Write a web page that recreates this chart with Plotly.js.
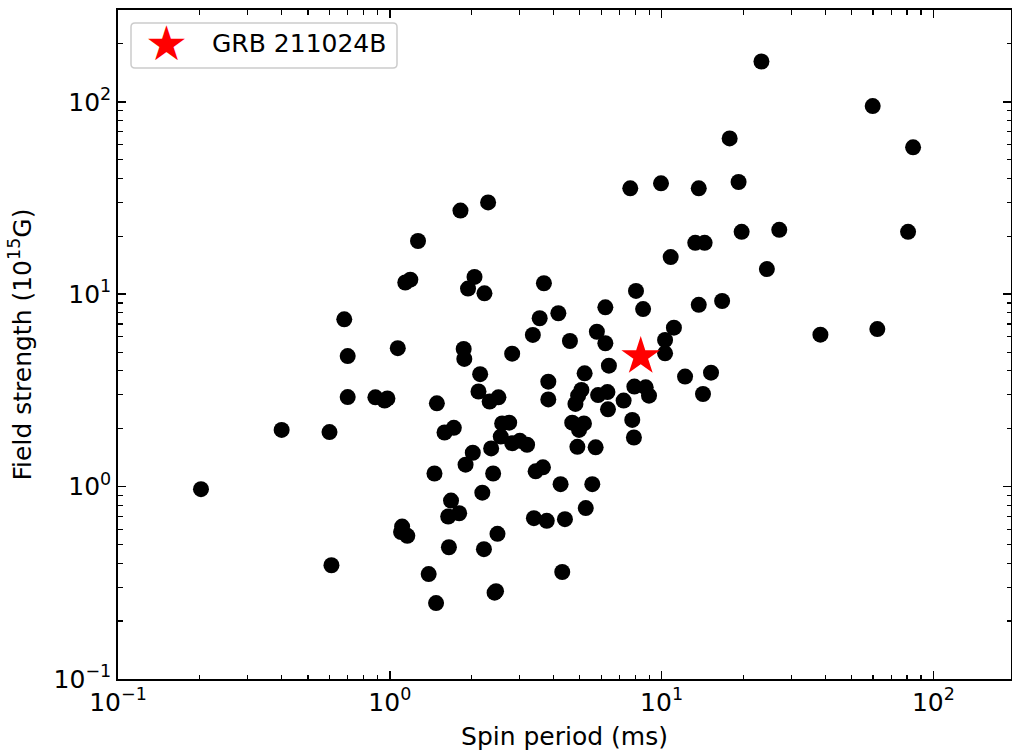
<!DOCTYPE html>
<html>
<head>
<meta charset="utf-8">
<script src="https://cdn.plot.ly/plotly-3.0.1.min.js"></script>
<style>html,body{margin:0;padding:0;background:#fff;}#chart{width:1012px;height:751px;}</style>
</head>
<body>
<div id="chart"></div>
<script>
// Magnetar sample: spin period (ms) and dipole field strength (10^15 G)
const spinPeriod = [
  0.202, 0.40, 0.60, 0.61, 0.68, 0.70, 0.70, 0.885, 0.957, 0.98,
  1.07, 1.14, 1.19, 1.27, 1.11, 1.10, 1.16, 1.82, 2.30, 7.67,
  9.95, 13.7, 13.3, 14.4, 23.3, 59.8, 84.2, 17.8, 19.2, 19.7,
  27.1, 80.7, 24.4, 16.7, 13.7, 38.4, 62.2, 15.2, 14.2, 2.05,
  1.94, 2.23, 3.69, 3.56, 4.17, 3.36, 4.60, 6.21, 5.78, 6.21,
  8.05, 8.55, 1.87, 1.88, 2.82, 2.15, 2.12, 2.33, 2.51, 1.49,
  3.83, 3.83, 5.21, 6.40, 5.07, 4.93, 4.82, 5.84, 6.32, 7.25,
  6.35, 7.94, 8.74, 8.99, 10.3, 10.3, 11.1, 10.8, 12.2, 7.80,
  7.91, 5.18, 4.69, 4.97, 4.90, 5.72, 2.59, 2.75, 2.56, 2.82,
  3.01, 3.20, 1.59, 1.72, 2.36, 2.02, 1.90, 1.46, 2.40, 3.44,
  3.66, 4.25, 5.56, 1.68, 1.64, 1.80, 2.19, 5.26, 3.39, 3.78,
  4.41, 2.49, 1.65, 2.22, 4.31, 1.39, 2.43, 2.46, 1.48
];
const fieldStrength = [
  0.97, 1.97, 1.92, 0.39, 7.4, 4.77, 2.92, 2.91, 2.80, 2.87,
  5.24, 11.5, 11.9, 18.9, 0.62, 0.58, 0.555, 27.2, 30.0, 35.5,
  37.7, 35.5, 18.5, 18.5, 162, 95, 58, 64.5, 38.3, 21.1,
  21.6, 21.1, 13.5, 9.22, 8.81, 6.16, 6.59, 3.91, 3.03, 12.3,
  10.7, 10.1, 11.4, 7.50, 7.96, 6.14, 5.71, 8.55, 6.38, 5.56,
  10.4, 8.37, 5.19, 4.61, 4.91, 3.84, 3.12, 2.77, 2.91, 2.71,
  3.51, 2.84, 3.88, 4.25, 3.18, 2.97, 2.69, 2.99, 3.10, 2.80,
  2.52, 3.31, 3.28, 2.97, 5.78, 4.93, 6.70, 15.6, 3.73, 2.22,
  1.80, 2.13, 2.15, 1.97, 1.61, 1.60, 2.13, 2.15, 1.82, 1.68,
  1.73, 1.65, 1.91, 2.02, 1.58, 1.50, 1.30, 1.17, 1.17, 1.20,
  1.26, 1.03, 1.03, 0.846, 0.699, 0.727, 0.93, 0.773, 0.685, 0.664,
  0.677, 0.568, 0.484, 0.473, 0.360, 0.351, 0.281, 0.286, 0.248
];
const grbName = "GRB 211024B";
const grbPeriod = [8.38];
const grbField = [4.75];

const majorTicks = [0.1, 1, 10, 100];
const majorTickText = ["10<sup>\u22121</sup>", "10<sup>0</sup>", "10<sup>1</sup>", "10<sup>2</sup>"];
const minorTicks = [];
[0.1, 1, 10, 100].forEach(function (d) { for (let k = 2; k <= 9; k++) minorTicks.push(+(d * k).toPrecision(3)); });

const FONT = "DejaVu Sans, Liberation Sans, sans-serif";

const traces = [
  {
    x: spinPeriod, y: fieldStrength, type: "scatter", mode: "markers",
    marker: { color: "black", size: 16, line: { width: 0 } },
    showlegend: false, hoverinfo: "x+y"
  },
  {
    x: grbPeriod, y: grbField, type: "scatter", mode: "markers", name: grbName,
    marker: { color: "#ff0000", symbol: "star", size: 29, line: { width: 0 } },
    showlegend: false
  }
];

function axisBase() {
  return {
    type: "log",
    showgrid: false, zeroline: false,
    showline: true, linecolor: "black", linewidth: 1.8, mirror: "ticks",
    ticks: "inside", ticklen: 8, tickwidth: 1.5, tickcolor: "black",
    tickmode: "array", tickvals: majorTicks, ticktext: majorTickText,
    tickfont: { family: FONT, size: 25, color: "black" },
    minor: { tickmode: "array", tickvals: minorTicks, ticks: "inside", ticklen: 4.5, tickwidth: 1.2, tickcolor: "black", showgrid: false }
  };
}

const xaxis = Object.assign(axisBase(), {
  range: [-1, Math.log10(193)],
  title: { text: "Spin period (ms)", font: { family: FONT, size: 25, color: "black" }, standoff: 13 }
});
const yaxis = Object.assign(axisBase(), {
  range: [-1, Math.log10(300)],
  title: { text: "Field strength (10<sup>15</sup>G)", font: { family: FONT, size: 25, color: "black" }, standoff: 15 }
});

// legend box (rounded) in paper coordinates
const W = 893, H = 669;
const lx0 = 13 / W, lx1 = 279 / W, ly0 = (679 - 68) / H, ly1 = (679 - 23) / H;
const rx = 4 / W, ry = 4 / H;
const boxPath = "M " + (lx0 + rx) + " " + ly1 +
  " L " + (lx1 - rx) + " " + ly1 + " Q " + lx1 + " " + ly1 + " " + lx1 + " " + (ly1 - ry) +
  " L " + lx1 + " " + (ly0 + ry) + " Q " + lx1 + " " + ly0 + " " + (lx1 - rx) + " " + ly0 +
  " L " + (lx0 + rx) + " " + ly0 + " Q " + lx0 + " " + ly0 + " " + lx0 + " " + (ly0 + ry) +
  " L " + lx0 + " " + (ly1 - ry) + " Q " + lx0 + " " + ly1 + " " + (lx0 + rx) + " " + ly1 + " Z";

const layout = {
  width: 1012, height: 751,
  margin: { l: 118, r: 1, t: 10, b: 72, pad: 0 },
  paper_bgcolor: "white", plot_bgcolor: "white",
  font: { family: FONT, size: 25, color: "black" },
  showlegend: false,
  xaxis: xaxis, yaxis: yaxis,
  shapes: [{
    type: "path", xref: "paper", yref: "paper", path: boxPath,
    fillcolor: "rgba(255,255,255,0.8)", line: { color: "#cccccc", width: 1.5 }, layer: "above"
  }],
  annotations: [
    { xref: "paper", yref: "paper", x: 48 / W, y: (679 - 43.5) / H, xanchor: "center", yanchor: "middle",
      text: "\u2605", showarrow: false, font: { family: FONT, size: 48, color: "#ff0000" } },
    { xref: "paper", yref: "paper", x: 92 / W, y: (679 - 43.5) / H, xanchor: "left", yanchor: "middle",
      text: grbName, showarrow: false, font: { family: FONT, size: 25, color: "black" } }
  ]
};

Plotly.newPlot("chart", traces, layout, { staticPlot: true, displayModeBar: false });
</script>
</body>
</html>
